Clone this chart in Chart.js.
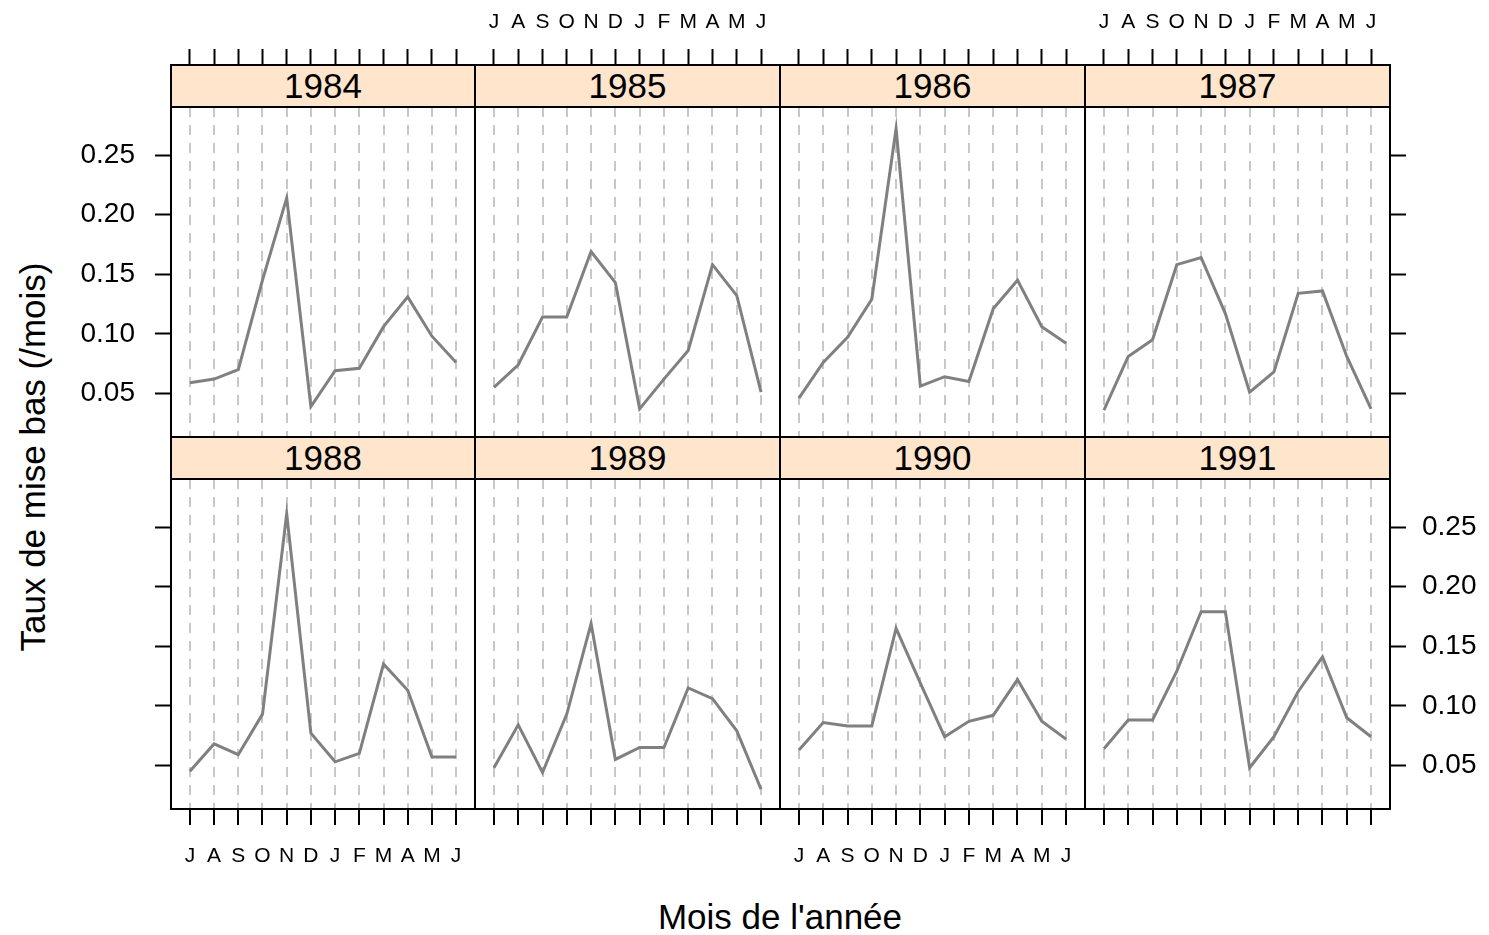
<!DOCTYPE html>
<html>
<head>
<meta charset="utf-8">
<script src="https://cdn.jsdelivr.net/npm/chart.js@4.4.1/dist/chart.umd.min.js"></script>
<style>
body { margin: 0; background: #fff; width: 1489px; height: 935px; position: relative; overflow: hidden; font-family: "Liberation Sans", Arial, sans-serif; }
canvas, .strip, .title { position: absolute; }
.strip { background: #ffe5cc; border: 2px solid #000; box-sizing: border-box; text-align: center; font-size: 35px; color: #000; }
.title { font-size: 35px; color: #000; white-space: nowrap; transform: translate(-50%, -50%); }
</style>
</head>
<body>
<div class="title" style="left:33px; top:457px; transform: translate(-50%, -50%) rotate(-90deg);">Taux de mise bas (/mois)</div>
<div class="title" style="left:780px; top:917px;">Mois de l'année</div>
<script>
// months from July to June
var months = ['J', 'A', 'S', 'O', 'N', 'D', 'J', 'F', 'M', 'A', 'M', 'J'];
var years = ['1984', '1985', '1986', '1987', '1988', '1989', '1990', '1991'];
var yTicks = [0.05, 0.10, 0.15, 0.20, 0.25];

var rate1984 = [0.059, 0.062, 0.070, 0.145, 0.214, 0.039, 0.069, 0.071, 0.106, 0.131, 0.098, 0.076];
var rate1985 = [0.055, 0.074, 0.114, 0.114, 0.169, 0.143, 0.037, 0.062, 0.086, 0.158, 0.132, 0.051];
var rate1986 = [0.046, 0.076, 0.097, 0.129, 0.272, 0.056, 0.064, 0.060, 0.121, 0.145, 0.106, 0.092];
var rate1987 = [0.036, 0.081, 0.095, 0.158, 0.164, 0.117, 0.051, 0.068, 0.134, 0.136, 0.081, 0.037];
var rate1988 = [0.045, 0.068, 0.059, 0.093, 0.261, 0.077, 0.053, 0.060, 0.135, 0.113, 0.057, 0.057];
var rate1989 = [0.048, 0.084, 0.044, 0.093, 0.169, 0.055, 0.065, 0.065, 0.115, 0.106, 0.079, 0.030];
var rate1990 = [0.063, 0.086, 0.083, 0.083, 0.165, 0.119, 0.074, 0.087, 0.092, 0.122, 0.087, 0.072];
var rate1991 = [0.064, 0.088, 0.088, 0.129, 0.179, 0.179, 0.048, 0.074, 0.112, 0.141, 0.090, 0.074];
var rates = [rate1984, rate1985, rate1986, rate1987, rate1988, rate1989, rate1990, rate1991];

// layout of the lattice
var colLeft = [171, 475, 780, 1085];
var colWidth = [304, 305, 305, 305];
var panelTop = [107, 479];
var panelH = 330;
var stripH = 42;
var AX = { left: 110, right: 110, spacer: stripH, top: 60, bottom: 90 };
var xMin = -0.78, xMax = 11.78;
var yMin = 0.0134, yMax = 0.2903;

var tickFont = { family: '"Liberation Sans", Arial, sans-serif', size: 28 };
var monthFont = { family: '"Liberation Sans", Arial, sans-serif', size: 21 };

function monthTicks(s) { s.ticks = months.map(function (m, i) { return { value: i }; }); }
function rateTicks(s) { s.ticks = yTicks.map(function (v) { return { value: v }; }); }

function makePanel(k) {
    var row = Math.floor(k / 4), col = k % 4;
    var cv = document.createElement('canvas');
    var w = colWidth[col] + AX.left + AX.right;
    var h = panelH + AX.spacer + AX.top + AX.bottom;
    cv.width = w; cv.height = h;
    cv.style.left = (colLeft[col] - AX.left) + 'px';
    cv.style.top = (panelTop[row] - AX.spacer - AX.top) + 'px';
    document.body.appendChild(cv);

    var strip = document.createElement('div');
    strip.className = 'strip';
    strip.style.left = (colLeft[col] - 1) + 'px';
    strip.style.top = (panelTop[row] - stripH - 1) + 'px';
    strip.style.width = (colWidth[col] + 2) + 'px';
    strip.style.height = (stripH + 2) + 'px';
    strip.style.lineHeight = (stripH - 2) + 'px';
    strip.textContent = years[k];

    var pts = rates[k].map(function (v, i) { return { x: i, y: v }; });
    var blackTicks = { drawOnChartArea: false, tickLength: 16, tickColor: '#000', tickWidth: 2, tickBorderDash: [] };

    new Chart(cv.getContext('2d'), {
        type: 'line',
        data: {
            datasets: [{
                data: pts,
                borderColor: '#808080',
                borderWidth: 3,
                pointRadius: 0,
                tension: 0,
                fill: false
            }]
        },
        options: {
            responsive: false,
            animation: false,
            events: [],
            layout: { padding: 0 },
            plugins: { legend: { display: false }, tooltip: { enabled: false } },
            scales: {
                x: {
                    type: 'linear', position: 'bottom', min: xMin, max: xMax,
                    afterBuildTicks: monthTicks,
                    afterFit: function (s) { s.height = AX.bottom; },
                    grid: { drawOnChartArea: true, drawTicks: row === 1, tickLength: 16, tickColor: '#000',
                            tickWidth: 2, tickBorderDash: [], color: '#c8c8c8', lineWidth: 2 },
                    border: { display: true, color: '#000', width: 2, dash: [10, 8] },
                    ticks: { display: row === 1 && (col === 0 || col === 2), autoSkip: false, maxRotation: 0, minRotation: 0,
                             padding: 19, color: '#000', font: monthFont,
                             callback: function (v) { return months[v]; } }
                },
                xs: {
                    type: 'linear', position: 'top', weight: 0, min: xMin, max: xMax,
                    afterFit: function (s) { s.height = AX.spacer; },
                    grid: { display: false },
                    border: { display: true, color: '#000', width: 2 },
                    ticks: { display: false }
                },
                x2: {
                    type: 'linear', position: 'top', weight: 10, min: xMin, max: xMax,
                    afterBuildTicks: monthTicks,
                    afterFit: function (s) { s.height = AX.top; },
                    grid: Object.assign({ display: row === 0 }, blackTicks),
                    border: { display: false },
                    ticks: { display: row === 0 && (col === 1 || col === 3), autoSkip: false, maxRotation: 0, minRotation: 0,
                             padding: 14, color: '#000', font: monthFont,
                             callback: function (v) { return months[v]; } }
                },
                y: {
                    type: 'linear', position: 'left', min: yMin, max: yMax,
                    afterBuildTicks: rateTicks,
                    afterFit: function (s) { s.width = AX.left; },
                    grid: Object.assign({ display: col === 0 }, blackTicks),
                    border: { display: true, color: '#000', width: 2 },
                    ticks: { display: col === 0 && row === 0, padding: 20, color: '#000', font: tickFont,
                             callback: function (v) { return v.toFixed(2); } }
                },
                y2: {
                    type: 'linear', position: 'right', min: yMin, max: yMax,
                    afterBuildTicks: rateTicks,
                    afterFit: function (s) { s.width = AX.right; },
                    grid: Object.assign({ display: col === 3 }, blackTicks),
                    border: { display: true, color: '#000', width: 2 },
                    ticks: { display: col === 3 && row === 1, padding: 16, color: '#000', font: tickFont,
                             callback: function (v) { return v.toFixed(2); } }
                }
            }
        }
    });
    return strip;
}

var strips = [];
for (var k = 0; k < 8; k++) strips.push(makePanel(k));
strips.forEach(function (s) { document.body.appendChild(s); });
</script>
</body>
</html>
